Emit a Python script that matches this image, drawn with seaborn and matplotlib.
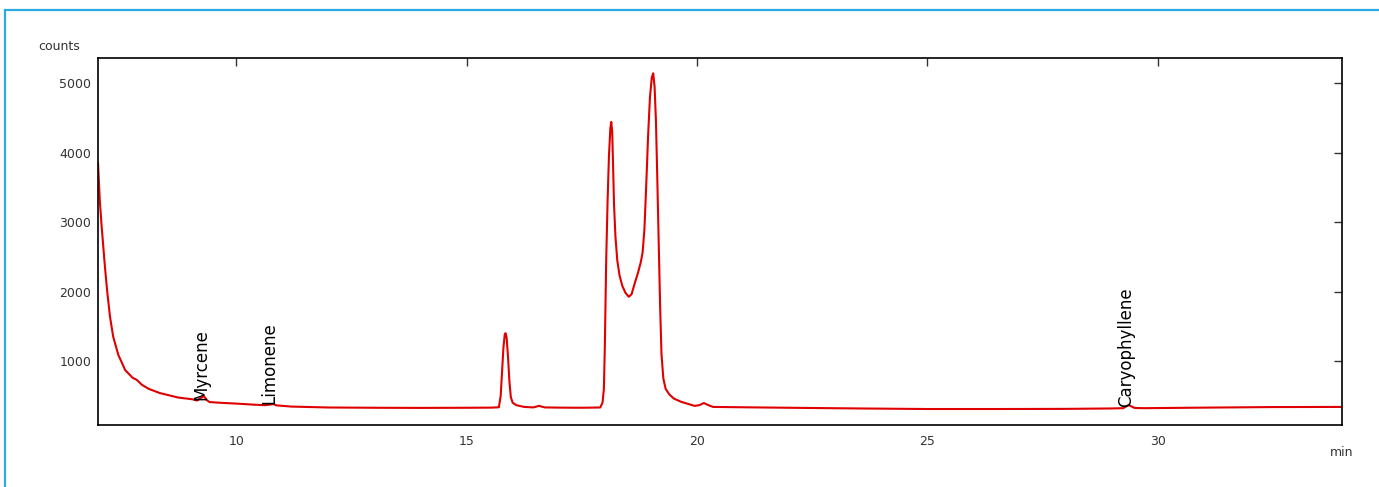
import matplotlib
matplotlib.use("Agg")
import matplotlib.pyplot as plt
from matplotlib.patches import Rectangle
import seaborn as sns
import pandas as pd

# Retention time (min) and detector counts
times = [7.00, 7.04, 7.08, 7.15, 7.20, 7.26, 7.33, 7.44, 7.59, 7.75, 7.84, 7.95,
         8.10, 8.34, 8.74, 9.05, 9.15, 9.23, 9.30, 9.36, 9.42, 9.70, 10.0, 10.4,
         10.62, 10.72, 10.80, 10.88, 11.2, 12.0, 13.0, 14.0, 15.0, 15.55, 15.70,
         15.74, 15.77, 15.80, 15.83, 15.85, 15.87, 15.90, 15.93, 15.96, 16.00,
         16.08, 16.25, 16.45, 16.57, 16.70, 17.0, 17.5,
         17.90, 17.95, 17.98, 18.00, 18.03, 18.06, 18.09, 18.12, 18.14, 18.16,
         18.18, 18.20, 18.23, 18.27, 18.32, 18.38, 18.45, 18.52, 18.58, 18.65,
         18.72, 18.78, 18.82, 18.86, 18.90, 18.94, 18.98, 19.02, 19.05, 19.08,
         19.11, 19.14, 19.17, 19.20, 19.23, 19.27, 19.32, 19.40, 19.50, 19.65,
         19.80, 19.95, 20.05, 20.15, 20.25, 20.35,
         21.0, 22.0, 23.5, 25.0, 26.5, 28.0, 29.0, 29.25, 29.37, 29.50, 29.7,
         31.0, 32.5, 34.0]
counts = [3850, 3300, 2930, 2360, 2000, 1640, 1350, 1090, 870, 760, 730, 660,
          600, 540, 475, 450, 432, 470, 496, 440, 410, 398, 388, 372,
          365, 372, 381, 362, 345, 332, 328, 326, 328, 330, 335,
          500, 850, 1200, 1390, 1400, 1330, 1050, 700, 480, 400,
          365, 340, 333, 355, 333, 330, 328,
          332, 400, 600, 1200, 2450, 3300, 3950, 4350, 4440, 4300,
          3800, 3250, 2800, 2450, 2230, 2080, 1980, 1925, 1960, 2120,
          2270, 2420, 2560, 2900, 3550, 4250, 4800, 5080, 5140, 4950,
          4450, 3600, 2700, 1800, 1100, 750, 600, 520, 460, 415,
          385, 355, 365, 396, 365, 340,
          335, 328, 318, 310, 310, 312, 318, 322, 367, 325, 322,
          330, 338, 340]

# Peak annotations
label_names = ["Myrcene", "Limonene", "Caryophyllene"]
label_times = [9.25, 10.72, 29.32]
label_counts = [440, 381, 342]

x_ticks = [10, 15, 20, 25, 30]
y_ticks = [1000, 2000, 3000, 4000, 5000]

sns.set_style("white")
plt.rcParams["font.family"] = ["DejaVu Sans"]

fig = plt.figure(figsize=(13.79, 4.87), dpi=100)
ax = fig.add_axes([98 / 1379, 1 - 425 / 487, (1342 - 98) / 1379, (425 - 58) / 487])

df = pd.DataFrame({"time": times, "counts": counts})
sns.lineplot(data=df, x="time", y="counts", ax=ax, color="#e00000",
             linewidth=1.5, estimator=None, sort=False)

for name, t, c in zip(label_names, label_times, label_counts):
    ax.text(t, c, name, rotation=90, ha="center", va="bottom",
            fontsize=12, color="black")

ax.set_xlim(7, 34)
ax.set_ylim(80, 5360)
ax.set_xticks(x_ticks)
ax.set_yticks(y_ticks)
ax.set_xlabel("")
ax.set_ylabel("")
ax.tick_params(direction="in", length=5.5, width=1, top=True, right=True,
               labelsize=9, labelcolor="#333333", color="#333333")
ax.tick_params(axis="x", pad=7)
ax.tick_params(axis="y", pad=5)
for s in ax.spines.values():
    s.set_visible(True)
    s.set_color("black")
    s.set_linewidth(1.2)

fig.text(38 / 1379, 1 - 46 / 487, "counts", ha="left", va="center",
         fontsize=9, color="#333333")
fig.text(1330 / 1379, 1 - 452 / 487, "min", ha="left", va="center",
         fontsize=9, color="#333333")

fig.patches.append(Rectangle((5 / 1379, -0.1), 1.2, 1.1 - 10 / 487,
                             transform=fig.transFigure, fill=False,
                             edgecolor="#29abe2", linewidth=1.6))

fig.savefig("out.png", dpi=100)
